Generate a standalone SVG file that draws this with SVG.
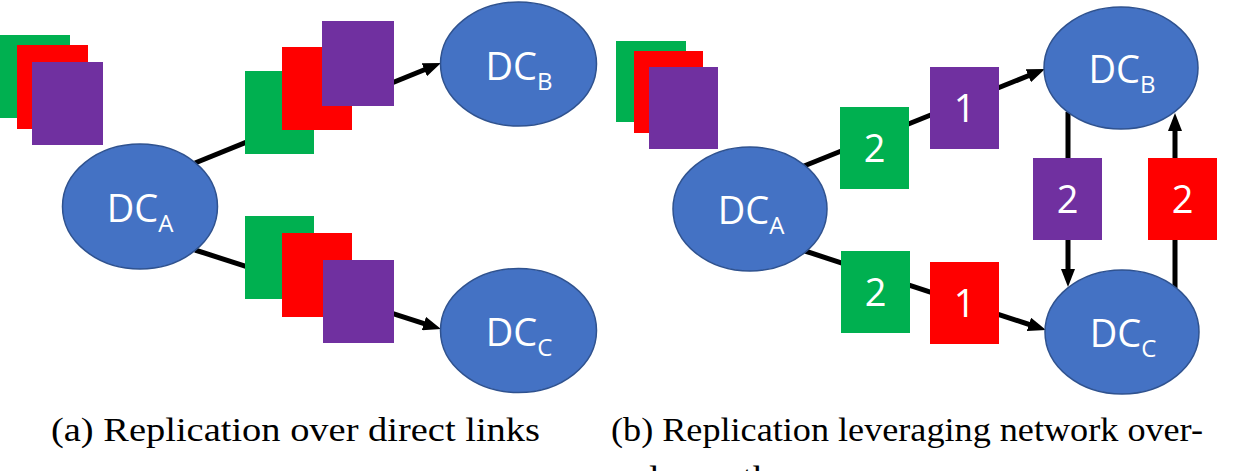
<svg xmlns="http://www.w3.org/2000/svg" width="1237" height="471" viewBox="0 0 1237 471">
<style>
.dc{fill:#4472C4;stroke:#2F528F;stroke-width:1.5}
.lbl{font-family:"Open Sans","Liberation Sans",sans-serif;font-size:38px;fill:#fff;text-anchor:middle}
.sub{font-size:24px}
.g{fill:#00B050}.r{fill:#FF0000}.p{fill:#7030A0}
.ln{stroke:#000;stroke-width:5;fill:none}
.cap{font-family:"Liberation Serif","DejaVu Serif",serif;font-size:34px;fill:#000}
</style>
<defs>
<marker id="ah" markerUnits="userSpaceOnUse" markerWidth="18" markerHeight="14" refX="10" refY="7" orient="auto">
<path d="M0,0 L18,7 L0,14 z" fill="#000"/>
</marker>
</defs>
<g id="connectors">
<line class="ln" x1="195" y1="163" x2="433.6" y2="66" marker-end="url(#ah)"/>
<line class="ln" x1="195" y1="250" x2="433.4" y2="326.6" marker-end="url(#ah)"/>
<line class="ln" x1="804" y1="166" x2="1037.6" y2="72" marker-end="url(#ah)"/>
<line class="ln" x1="805" y1="251" x2="1038.4" y2="327.5" marker-end="url(#ah)"/>
<line class="ln" x1="1068" y1="112" x2="1068" y2="279" marker-end="url(#ah)"/>
<line class="ln" x1="1175" y1="288" x2="1175" y2="121" marker-end="url(#ah)"/>
</g>
<g id="a-stack-source">
<rect class="g" x="0" y="35" width="70" height="83"/>
<rect class="r" x="17" y="45" width="71" height="84"/>
<rect class="p" x="32" y="62" width="71" height="83"/>
</g>
<g id="a-stack-upper">
<rect class="g" x="245" y="71" width="69" height="83"/>
<rect class="r" x="282" y="47" width="70" height="83"/>
<rect class="p" x="322" y="21" width="72" height="85"/>
</g>
<g id="a-stack-lower">
<rect class="g" x="245" y="216" width="69" height="83"/>
<rect class="r" x="282" y="233" width="70" height="84"/>
<rect class="p" x="323" y="260" width="71" height="83"/>
</g>
<g id="a-dcA">
<ellipse class="dc" cx="140" cy="206.5" rx="77.5" ry="62.5"/>
<text class="lbl" x="140" y="222">DC<tspan class="sub" dy="10">A</tspan></text>
</g>
<g id="a-dcB">
<ellipse class="dc" cx="518.5" cy="64" rx="78" ry="62"/>
<text class="lbl" x="519" y="80">DC<tspan class="sub" dy="10">B</tspan></text>
</g>
<g id="a-dcC">
<ellipse class="dc" cx="518.5" cy="330.5" rx="78" ry="62"/>
<text class="lbl" x="519" y="346">DC<tspan class="sub" dy="10">C</tspan></text>
</g>
<g id="b-stack-source">
<rect class="g" x="616" y="41" width="70" height="81"/>
<rect class="r" x="634" y="51" width="69" height="82"/>
<rect class="p" x="649" y="67" width="69" height="82"/>
</g>
<g id="b-green-upper">
<rect class="g" x="840" y="107" width="69" height="82"/>
<text class="lbl" x="874.5" y="162">2</text>
</g>
<g id="b-purple-1">
<rect class="p" x="930" y="67" width="69" height="82"/>
<text class="lbl" x="964.5" y="122">1</text>
</g>
<g id="b-green-lower">
<rect class="g" x="841" y="251" width="69" height="82"/>
<text class="lbl" x="875.5" y="306">2</text>
</g>
<g id="b-red-1">
<rect class="r" x="930" y="262" width="69" height="82"/>
<text class="lbl" x="964.5" y="317">1</text>
</g>
<g id="b-purple-2">
<rect class="p" x="1033" y="158" width="69" height="82"/>
<text class="lbl" x="1067.5" y="213">2</text>
</g>
<g id="b-red-2">
<rect class="r" x="1148" y="158" width="69" height="82"/>
<text class="lbl" x="1182.5" y="213">2</text>
</g>
<g id="b-dcA">
<ellipse class="dc" cx="750" cy="209" rx="77" ry="62"/>
<text class="lbl" x="751" y="224">DC<tspan class="sub" dy="10">A</tspan></text>
</g>
<g id="b-dcB">
<ellipse class="dc" cx="1121" cy="68" rx="77" ry="61"/>
<text class="lbl" x="1122" y="83">DC<tspan class="sub" dy="10">B</tspan></text>
</g>
<g id="b-dcC">
<ellipse class="dc" cx="1122" cy="332" rx="77" ry="62"/>
<text class="lbl" x="1123" y="347">DC<tspan class="sub" dy="10">C</tspan></text>
</g>
<g id="captions">
<text class="cap" font-family="Liberation Serif, serif" x="51" y="441" textLength="489" lengthAdjust="spacingAndGlyphs">(a) Replication over direct links</text>
<text class="cap" font-family="Liberation Serif, serif" x="611" y="441" textLength="592" lengthAdjust="spacingAndGlyphs">(b) Replication leveraging network over-</text>
<text class="cap" font-family="Liberation Serif, serif" x="649" y="489" textLength="138" lengthAdjust="spacingAndGlyphs">lay paths</text>
</g>
</svg>
